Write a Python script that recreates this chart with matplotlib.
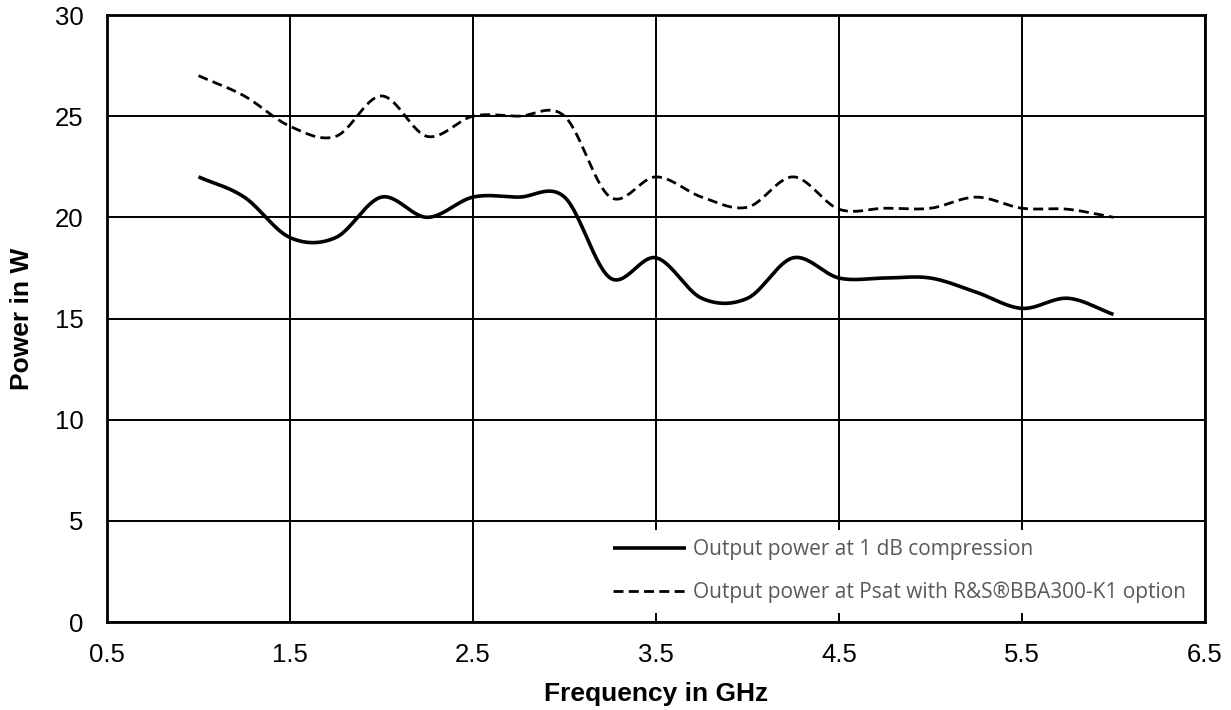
import numpy as np
import matplotlib
matplotlib.use("Agg")
import matplotlib.pyplot as plt

# ---- data ----
freq_ghz = [1.0, 1.25, 1.5, 1.75, 2.0, 2.25, 2.5, 2.75, 3.0, 3.25, 3.5,
            3.75, 4.0, 4.25, 4.5, 4.75, 5.0, 5.25, 5.5, 5.75, 6.0]
p1db_w = [22.0, 21.0, 19.0, 19.0, 21.0, 20.0, 21.0, 21.0, 21.0, 17.0, 18.0,
          16.0, 16.0, 18.0, 17.0, 17.0, 17.0, 16.3, 15.5, 16.0, 15.2]
psat_w = [27.0, 26.0, 24.5, 24.0, 26.0, 24.0, 25.0, 25.0, 25.0, 21.0, 22.0,
          21.0, 20.5, 22.0, 20.4, 20.45, 20.45, 21.0, 20.45, 20.4, 20.0]
series_labels = ["Output power at 1 dB compression",
                 "Output power at Psat with R&S\u00aeBBA300-K1 option"]
x_ticks = [0.5, 1.5, 2.5, 3.5, 4.5, 5.5, 6.5]
y_ticks = [0, 5, 10, 15, 20, 25, 30]


def smooth(x, y, n=30):
    """Catmull-Rom style smoothing similar to a spreadsheet 'smoothed line'."""
    x = np.asarray(x, float)
    y = np.asarray(y, float)
    px = np.concatenate([[2 * x[0] - x[1]], x, [2 * x[-1] - x[-2]]])
    py = np.concatenate([[2 * y[0] - y[1]], y, [2 * y[-1] - y[-2]]])
    xs, ys = [], []
    t = np.linspace(0, 1, n, endpoint=False)
    for i in range(1, len(px) - 2):
        def cr(a0, a1, a2, a3):
            return 0.5 * ((2 * a1) + (-a0 + a2) * t + (2 * a0 - 5 * a1 + 4 * a2 - a3) * t ** 2
                          + (-a0 + 3 * a1 - 3 * a2 + a3) * t ** 3)
        xs.append(cr(px[i - 1], px[i], px[i + 1], px[i + 2]))
        ys.append(cr(py[i - 1], py[i], py[i + 1], py[i + 2]))
    xs.append([x[-1]])
    ys.append([y[-1]])
    return np.concatenate(xs), np.concatenate(ys)


plt.rcParams['font.family'] = ['Liberation Sans', 'DejaVu Sans']

fig = plt.figure(figsize=(12.31, 7.10), dpi=100)
ax = fig.add_axes([107 / 1231, 1 - 622 / 710, (1205 - 107) / 1231, (622 - 15) / 710])

sx, sy = smooth(freq_ghz, p1db_w)
ax.plot(sx, sy, color='black', lw=2.6, solid_capstyle='butt', zorder=3,
        label=series_labels[0])
dx, dy = smooth(freq_ghz, psat_w)
ax.plot(dx, dy, color='black', lw=2.0, dashes=(3.6, 1.9), zorder=3,
        label=series_labels[1])

ax.set_xlim(0.5, 6.5)
ax.set_ylim(0, 30)
ax.set_xticks(x_ticks)
ax.set_xticklabels([str(v) for v in x_ticks])
ax.set_yticks(y_ticks)
ax.set_yticklabels([str(v) for v in y_ticks])
ax.grid(True, color='black', lw=1.4, zorder=0)
ax.set_axisbelow(True)
for s in ax.spines.values():
    s.set_linewidth(2.0)
    s.set_color('black')
ax.tick_params(axis='both', length=0, labelsize=18.5)
ax.tick_params(axis='x', pad=15)
ax.tick_params(axis='y', pad=17)

ax.set_xlabel("Frequency in GHz", fontsize=19, fontweight='bold')
ax.set_ylabel("Power in W", fontsize=19, fontweight='bold')
ax.xaxis.set_label_coords(0.5, (622 - 694) / 607)
ax.yaxis.set_label_coords((22 - 107) / 1098, 0.5)
ax.xaxis.label.set_va('center')
ax.yaxis.label.set_va('center')

leg = ax.legend(loc='lower right', bbox_to_anchor=(1.0, 0.0), frameon=True,
                fancybox=False, framealpha=1.0, edgecolor='none',
                prop={'family': 'Open Sans', 'size': 15.0},
                handlelength=3.5, handletextpad=0.34, labelspacing=1.02,
                borderaxespad=0.45, borderpad=0.45)
for t in leg.get_texts():
    t.set_color('#595959')
leg.set_zorder(2)

fig.savefig("out.png", dpi=100)
